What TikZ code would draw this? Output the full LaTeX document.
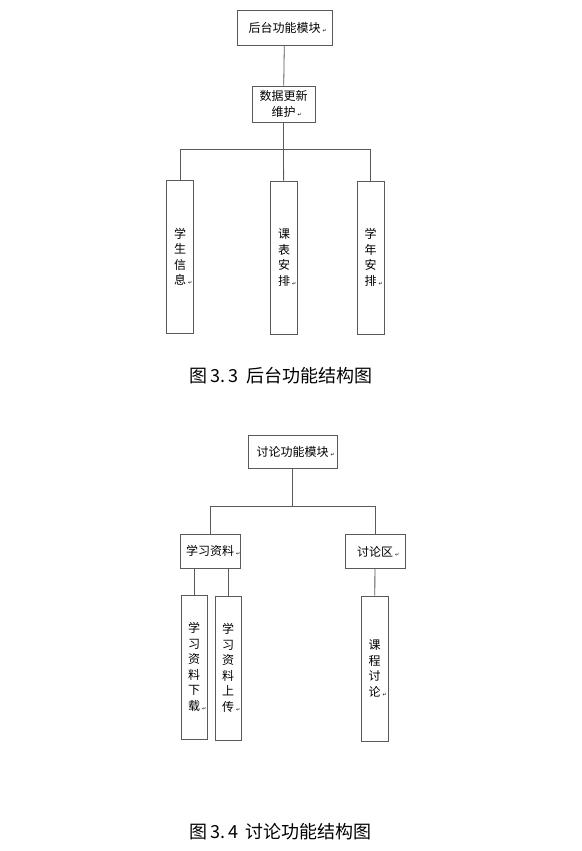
\documentclass[tikz,border=0pt]{standalone}
\usepackage{fontspec}
\setmainfont{Noto Sans CJK SC}
\newfontfamily\symfont{DejaVu Sans}
\newcommand{\rmk}{\rlap{\,{\symfont\fontsize{5}{5}\selectfont ↵}}}

\begin{document}
\begin{tikzpicture}[
        yscale=-1,
        x=1pt,
        y=1pt,
        box/.style={draw=black!65, line width=0.8pt, inner sep=0pt, align=center,
            font=\fontsize{12}{15.5}\selectfont},
        vbox/.style={box, minimum width=27pt},
        link/.style={draw=black!65, line width=0.8pt},
        caption/.style={font=\fontsize{18}{20}\selectfont}
    ]
    \useasboundingbox (0,0) rectangle (581,851);

    % 后台功能
    \node[box, minimum width=95pt, minimum height=35pt] (back) at (284.5,27.5) {后台功能模块\rmk};
    \node[box, minimum width=63pt, minimum height=36pt] (update) at (283.5,104) {数据更新\\维护\rmk};
    \coordinate (bus1) at (283.5,149);
    \node[vbox, minimum height=153pt] (info) at (180,257) {学\\生\\信\\息\rmk};
    \node[vbox, minimum height=153pt] (course) at (284,257.5) {课\\表\\安\\排\rmk};
    \node[vbox, minimum height=153pt] (year) at (370.5,257.5) {学\\年\\安\\排\rmk};
    \draw[link] (back) -- (update);
    \draw[link] (update) -- (bus1);
    \draw[link] (bus1) -| (info);
    \draw[link] (bus1) -- (course);
    \draw[link] (bus1) -| (year);
    \node[caption] (cap1) at (281,376) {图\,3.\,3\, 后台功能结构图};

    % 讨论功能
    \node[box, minimum width=89pt, minimum height=33pt] (forum) at (292.5,451.5) {讨论功能模块\rmk};
    \coordinate (bus2) at (292.5,506);
    \node[box, minimum width=60pt, minimum height=34pt] (material) at (210,551) {学习资料\rmk};
    \node[box, minimum width=60pt, minimum height=34pt] (discuss) at (375,551.5) {讨论区\rmk};
    \node[vbox, minimum width=26pt, minimum height=144pt] (download) at (194,667) {学\\习\\资\\料\\下\\载\rmk};
    \node[vbox, minimum width=26pt, minimum height=144pt] (upload) at (228,668) {学\\习\\资\\料\\上\\传\rmk};
    \node[vbox, minimum height=145pt] (talk) at (374.5,668.5) {课\\程\\讨\\论\rmk};
    \draw[link] (forum) -- (bus2);
    \draw[link] (bus2) -| (material);
    \draw[link] (bus2) -| (discuss);
    \draw[link] (download |- material.south) -- (download);
    \draw[link] (upload |- material.south) -- (upload);
    \draw[link] (discuss) -- (talk);
    \node[caption] (cap2) at (280.5,832) {图\,3.\,4\, 讨论功能结构图};
\end{tikzpicture}
\end{document}
